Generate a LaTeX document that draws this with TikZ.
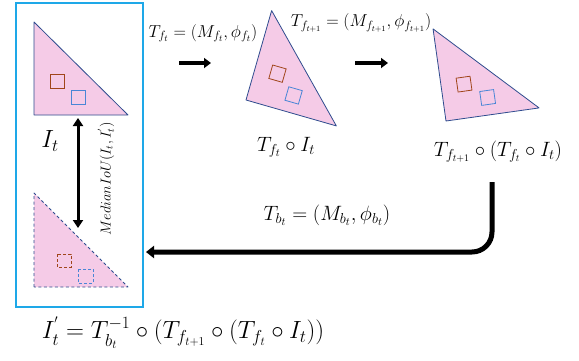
\documentclass[tikz,border=0pt]{standalone}
\usepackage{amsmath}
\usetikzlibrary{arrows.meta}
\definecolor{pinkfill}{HTML}{F5CBE7}
\definecolor{triedge}{HTML}{2F4C8F}
\definecolor{sqbrown}{HTML}{A0451A}
\definecolor{sqblue}{HTML}{4A86D6}
\definecolor{boxblue}{HTML}{1EA8E8}
\tikzset{
  tri/.style={draw=triedge, fill=pinkfill, line width=0.8pt, line join=round},
  trid/.style={tri, dash pattern=on 3pt off 2.5pt},
  sqbr/.style={draw=sqbrown, line width=0.8pt},
  sqbl/.style={draw=sqblue, line width=0.8pt},
  fwd/.style={line width=3.5pt, -{Triangle[length=7pt,width=10pt]}},
  lbl/.style={inner sep=0pt, font=\fontsize{17.5}{20}\selectfont},
  midlbl/.style={inner sep=0pt, font=\fontsize{21}{24}\selectfont},
  biglbl/.style={inner sep=0pt, font=\fontsize{23.5}{27}\selectfont},
}
\begin{document}
\begin{tikzpicture}[x=1pt,y=-1pt]
\useasboundingbox (0,0) rectangle (579,360);
\fill[white] (0,0) rectangle (579,360);
% left box
\draw[boxblue, line width=2pt] (16,3) rectangle (143,307);
% triangle 1
\begin{scope}[shift={(34,115)}]
  \draw[tri] (0,0) -- (0,-93) -- (94,0) -- cycle;
  \draw[sqbr] (16,-41) rectangle (30,-27);
  \draw[sqbl] (37.5,-24.5) rectangle (51.5,-10.5);
\end{scope}
% dashed triangle
\begin{scope}[shift={(34,287)}]
  \draw[trid] (0,0) -- (0,-94) -- (94,0) -- cycle;
  \draw[sqbr, dash pattern=on 3pt off 2pt] (23,-33) rectangle (37,-20);
  \draw[sqbl, dash pattern=on 3pt off 2pt] (44,-18) rectangle (59,-4);
\end{scope}
% triangle 2
\begin{scope}[shift={(246,100)}, rotate=-16]
  \draw[tri] (0,0) -- (0,-93) -- (94,0) -- cycle;
  \draw[sqbr] (16,-41) rectangle (30,-27);
  \draw[sqbl] (37.5,-24.5) rectangle (51.5,-10.5);
\end{scope}
% triangle 3
\begin{scope}[shift={(446,121)}, rotate=8]
  \draw[tri] (0,0) -- (0,-93) -- (94,0) -- cycle;
  \draw[sqbr] (16,-41) rectangle (30,-27);
  \draw[sqbl] (37.5,-24.5) rectangle (51.5,-10.5);
\end{scope}
% labels
\node[inner sep=0pt, font=\fontsize{23}{26}\selectfont] (it) at (50,141) {$I_t$};
\node[lbl] (tf) at (203,33) {$T_{f_t} = (M_{f_t}, \phi_{f_t})$};
\node[lbl, font=\fontsize{17}{20}\selectfont] (tf1) at (361,23) {$T_{f_{t+1}} = (M_{f_{t+1}}, \phi_{f_{t+1}})$};
\node[midlbl, font=\fontsize{22}{25}\selectfont] (c1) at (286,147) {$T_{f_t} \circ I_t$};
\node[midlbl, font=\fontsize{20}{23}\selectfont] (c2) at (498,152) {$T_{f_{t+1}} \circ (T_{f_t} \circ I_t)$};
\node[midlbl, font=\fontsize{22}{25}\selectfont] (tb) at (327,215) {$T_{b_t} = (M_{b_t}, \phi_{b_t})$};
\node[biglbl] (eq) at (183,333) {$I_t^{'} = T_{b_t}^{-1} \circ (T_{f_{t+1}} \circ (T_{f_t} \circ I_t))$};
\node[inner sep=0pt, rotate=90, font=\fontsize{14}{16}\selectfont] (miou) at (106,179) {$MedianIoU(I_t, I_t^{'})$};
% arrows
\coordinate (a1s) at (179,63); \coordinate (a1e) at (211,63);
\coordinate (a2s) at (355,63); \coordinate (a2e) at (388,63);
\draw[fwd] (a1s) -- (a1e);
\draw[fwd] (a2s) -- (a2e);
\coordinate (ds) at (78,118); \coordinate (de) at (78,228);
\draw[line width=3pt, {Triangle[length=8pt,width=10pt]}-{Triangle[length=8pt,width=10pt]}] (ds) -- (de);
\coordinate (bs) at (492,182); \coordinate (bc) at (492,252); \coordinate (be) at (146,252);
\draw[line width=5pt, rounded corners=20pt, -{Triangle[length=8pt,width=12pt]}] (bs) -- (bc) -- (be);
\end{tikzpicture}
\end{document}
